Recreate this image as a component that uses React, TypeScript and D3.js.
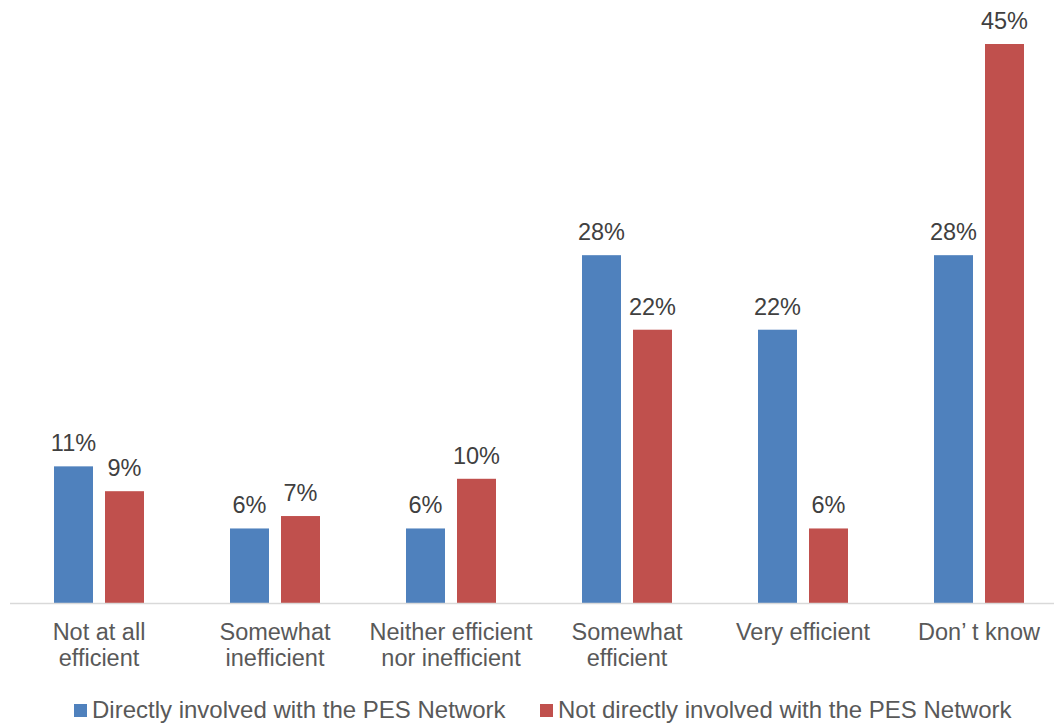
import React from "react";
import * as d3 from "d3";

const categories = [
  ["Not at all", "efficient"],
  ["Somewhat", "inefficient"],
  ["Neither efficient", "nor inefficient"],
  ["Somewhat", "efficient"],
  ["Very efficient"],
  ["Don\u2019 t know"],
];
const seriesNames = [
  "Directly involved with the PES Network",
  "Not directly involved with the PES Network",
];
const directly = [11, 6, 6, 28, 22, 28];
const notDirectly = [9, 7, 10, 22, 6, 45];
const colors = ["#4F81BD", "#C0504D"];

const W = 1054;
const H = 724;
const FONT = "Liberation Sans, Arial, sans-serif";
const TXT = "#595959";
const LBL = "#404040";

export default function App() {
  const baseY = 603;
  const x = d3
    .scaleBand<number>()
    .domain(categories.map((_, i) => i))
    .range([11, 1067])
    .paddingInner(0)
    .paddingOuter(0);
  const y = d3.scaleLinear().domain([0, 45]).range([baseY, 44]);
  const barW = 39;
  const offsets = [-25.5, 25.5];
  const series = [directly, notDirectly];

  return (
    <svg
      width={W}
      height={H}
      style={{ position: "absolute", left: 0, top: 0, fontFamily: FONT }}
    >
      <rect width={W} height={H} fill="#fff" />
      {series.map((vals, s) =>
        vals.map((v, i) => {
          const cx = (x(i) as number) + x.bandwidth() / 2 + offsets[s];
          return (
            <g key={`${s}-${i}`}>
              <rect
                x={cx - barW / 2}
                y={y(v)}
                width={barW}
                height={baseY - y(v)}
                fill={colors[s]}
              />
              <text
                x={cx}
                y={y(v) - 15}
                textAnchor="middle"
                fontSize={23.5}
                fill={LBL}
              >
                {v}%
              </text>
            </g>
          );
        })
      )}
      <line x1={10} x2={W} y1={baseY + 0.5} y2={baseY + 0.5} stroke="#D9D9D9" strokeWidth={1.5} />
      {categories.map((lines, i) => {
        const cx = (x(i) as number) + x.bandwidth() / 2;
        return (
          <text key={i} textAnchor="middle" fontSize={23.5} fill={TXT}>
            {lines.map((l, j) => (
              <tspan key={j} x={cx} y={640 + j * 26}>
                {l}
              </tspan>
            ))}
          </text>
        );
      })}
      {seriesNames.map((n, s) => {
        const lx = s === 0 ? 74 : 540;
        return (
          <g key={n}>
            <rect x={lx} y={704} width={13} height={13} fill={colors[s]} />
            <text x={lx + 18} y={718} fontSize={24} fill={TXT}>
              {n}
            </text>
          </g>
        );
      })}
    </svg>
  );
}
